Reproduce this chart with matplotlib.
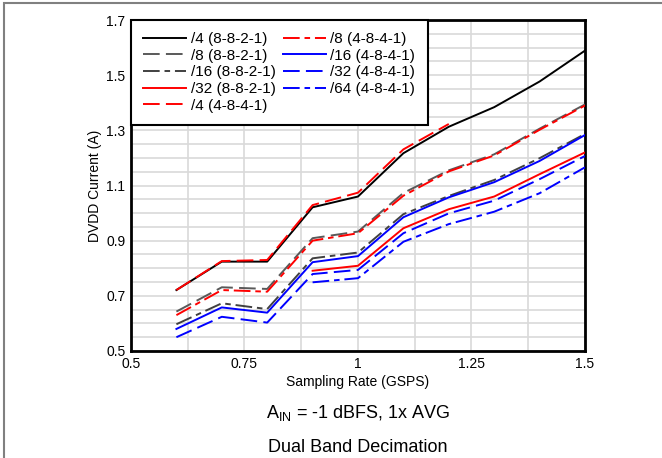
import matplotlib
matplotlib.use("Agg")
import matplotlib.pyplot as plt
import numpy as np
from matplotlib.patches import Rectangle

plt.rcParams['font.family'] = ['Liberation Sans', 'DejaVu Sans']
plt.rcParams['lines.scale_dashes'] = False

# Sampling rate (GSPS)
x_full = [0.6, 0.7, 0.8, 0.9, 1.0, 1.1, 1.2, 1.3, 1.4, 1.5]
x_to12 = [0.6, 0.7, 0.8, 0.9, 1.0, 1.1, 1.2]
x_from09 = [0.9, 1.0, 1.1, 1.2, 1.3, 1.4, 1.5]

d4_8821 = [0.721, 0.824, 0.824, 1.021, 1.060, 1.217, 1.313, 1.384, 1.477, 1.589]
d8_8821 = [0.643, 0.731, 0.725, 0.909, 0.933, 1.073, 1.155, 1.213, 1.306, 1.394]
d16_8821 = [0.597, 0.673, 0.652, 0.836, 0.857, 0.996, 1.062, 1.120, 1.199, 1.287]
d32_8821 = [0.791, 0.809, 0.945, 1.014, 1.060, 1.141, 1.220]
d4_4841 = [0.721, 0.826, 0.830, 1.029, 1.074, 1.231, 1.323]
d8_4841 = [0.630, 0.721, 0.715, 0.900, 0.927, 1.063, 1.151, 1.209, 1.302, 1.390]
d16_4841 = [0.580, 0.658, 0.639, 0.822, 0.844, 0.985, 1.057, 1.112, 1.189, 1.283]
d32_4841 = [0.550, 0.624, 0.603, 0.779, 0.794, 0.927, 0.999, 1.045, 1.123, 1.207]
d64_4841 = [0.749, 0.764, 0.896, 0.960, 1.005, 1.072, 1.166]

labels = ["/4 (8-8-2-1)", "/8 (8-8-2-1)", "/16 (8-8-2-1)", "/32 (8-8-2-1)",
          "/4 (4-8-4-1)", "/8 (4-8-4-1)", "/16 (4-8-4-1)", "/32 (4-8-4-1)",
          "/64 (4-8-4-1)"]

x_ticks = [0.5, 0.75, 1.0, 1.25, 1.5]
x_tick_labels = ["0.5", "0.75", "1", "1.25", "1.5"]
y_ticks = [0.5, 0.7, 0.9, 1.1, 1.3, 1.5, 1.7]
y_tick_labels = ["0.5", "0.7", "0.9", "1.1", "1.3", "1.5", "1.7"]

LD = (0, (12, 4.5))
LDD = (0, (12, 3.5, 4, 3.5))

fig = plt.figure(figsize=(6.62, 4.58), dpi=100)
ax = fig.add_axes([131/662, 1-351/458, 454/662, 331/458])

lw = 1.4
series = [
    (x_full, d4_8821, 'black', '-'),
    (x_full, d8_8821, '#595959', LD),
    (x_full, d16_8821, '#404040', LDD),
    (x_from09, d32_8821, '#ff0000', '-'),
    (x_to12, d4_4841, '#ff0000', LD),
    (x_full, d8_4841, '#ff0000', LDD),
    (x_full, d16_4841, '#0000ff', '-'),
    (x_full, d32_4841, '#0000ff', LD),
    (x_from09, d64_4841, '#0000ff', LDD),
]
for (xs, ys, c, ls), lab in zip(series, labels):
    ax.plot(xs, ys, color=c, linestyle=ls, lw=lw, label=lab, zorder=3)

ax.set_xlim(0.5, 1.5)
ax.set_ylim(0.5, 1.7)
ax.set_xticks(x_ticks)
ax.set_xticklabels(x_tick_labels)
ax.set_yticks(y_ticks)
ax.set_yticklabels(y_tick_labels)
ax.set_xticks(np.arange(0.5, 1.5001, 0.125), minor=True)
ax.set_yticks(np.arange(0.5, 1.7001, 0.05), minor=True)
ax.grid(which='both', color='#d9d9d9', lw=1.2, zorder=0)
ax.set_axisbelow(True)
ax.tick_params(which='both', length=0, labelsize=10, pad=4)
for s in ax.spines.values():
    s.set_linewidth(2)
    s.set_color('black')

ax.set_xlabel("Sampling Rate (GSPS)", fontsize=10, labelpad=3)
ax.set_ylabel("DVDD Current (A)", fontsize=10, labelpad=3)

leg = ax.legend(loc='upper left', bbox_to_anchor=(0, 1), borderaxespad=0,
                ncol=2, fontsize=11, frameon=True, fancybox=False,
                handlelength=2.8, handletextpad=0.3, columnspacing=0.5,
                labelspacing=0.17, borderpad=0.8)
leg.get_frame().set_edgecolor('black')
leg.get_frame().set_linewidth(1.5)
leg.get_frame().set_alpha(1)
leg.set_zorder(5)

fig.text(358/662, 1-413/458, r"A$_{\mathregular{IN}}$ = -1 dBFS, 1x AVG", ha='center', va='center', fontsize=13)
fig.text(358/662, 1-447/458, "Dual Band Decimation", ha='center', va='center', fontsize=13)

fig.patches.append(Rectangle((4/662, -0.1), 1.2, 1-3/458+0.1, transform=fig.transFigure,
                             fill=False, edgecolor='#808080', lw=1.5))

fig.savefig("out.png", dpi=100)
